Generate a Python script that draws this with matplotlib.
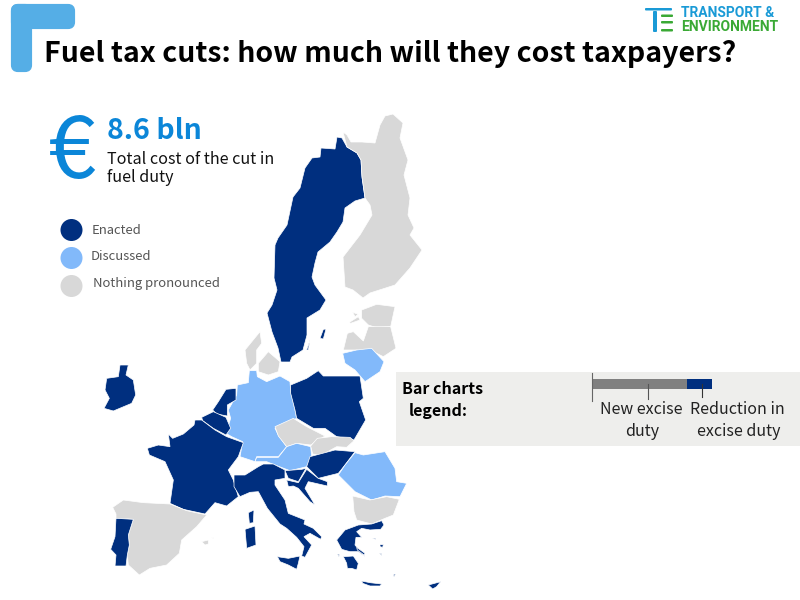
import matplotlib
matplotlib.use("Agg")
import matplotlib.pyplot as plt
from matplotlib.patches import Polygon, Circle, FancyBboxPatch

NAVY = "#002f7f"
LIGHT = "#82b9fa"
GREY = "#d8d8d8"
BLUE = "#0b86d8"
FONT = "Noto Sans CJK SC"

title = "Fuel tax cuts: how much will they cost taxpayers?"
total_cost = "8.6 bln"
legend_labels = ["Enacted", "Discussed", "Nothing pronounced"]
new_excise = 95
excise_reduction = 25

# outlines, in pixels
sweden = [(337,137),(342,138),(347,147),(357,153),(361,160),(362,177),(365,198),(355,201),(345,208),(343,222),(337,232),(330,242),(318,252),(315,263),(312,277),(315,285),(326,300),(320,310),(307,318),(307,335),(303,350),(292,357),(290,362),(281,362),(278,348),(272,332),(267,313),(272,305),(277,290),(274,278),(275,245),(278,238),(287,225),(293,197),(300,188),(305,168),(312,158),(320,157),(321,148),(335,149)]
finland = [(343,132),(347,135),(351,142),(362,142),(375,143),(380,125),(385,116),(393,114),(403,123),(400,138),(408,160),(404,175),(410,198),(408,215),(414,228),(410,235),(422,250),(410,268),(395,285),(370,293),(363,298),(353,290),(345,287),(343,257),(360,235),(372,215),(370,205),(365,198),(362,177),(361,160),(357,153),(347,147)]

# crop at (260,235), 3x
estonia = [(305,225),(350,208),(405,215),(392,275),(350,278),(325,270),(305,250)]
latvia = [(250,345),(262,295),(280,290),(310,318),(325,275),(392,275),(408,340),(370,365),(340,350),(290,345)]
saaremaa = [(268,262),(295,245),(300,255),(272,265)]
hiiumaa = [(278,232),(295,238),(285,245)]
gotland = [(180,310),(190,283),(198,282),(190,312)]
oland = [(140,345),(150,315),(145,345)]

# crop at (200,330), 3x
jutland = [(135,60),(180,5),(185,40),(170,60),(170,100),(150,120),(140,100)]
zealand = [(175,100),(205,65),(240,95),(235,125),(205,135),(175,125)]
germany = [(148,122),(170,122),(172,140),(200,155),(240,138),(270,155),(272,185),(285,240),(290,265),(225,295),(235,315),(260,350),(235,380),(170,380),(165,395),(120,380),(128,335),(95,320),(78,310),(92,265),(85,240),(110,195),(112,165),(145,158)]
poland = [(272,165),(320,145),(355,122),(370,138),(480,138),(490,205),(478,215),(497,270),(462,330),(410,320),(375,295),(340,295),(290,265),(285,240),(272,190)]
netherlands = [(78,178),(108,175),(108,210),(82,225),(82,258),(50,252),(38,240),(55,215)]
belgium = [(5,262),(40,245),(78,262),(92,295),(78,315),(40,295),(8,272)]
czechia = [(225,290),(280,265),(320,290),(375,318),(332,345),(290,340),(260,350),(235,318)]
slovakia = [(332,348),(352,325),(395,320),(450,322),(462,332),(440,352),(410,350),(365,375),(338,372)]
austria = [(165,395),(170,382),(235,382),(260,350),(290,340),(332,350),(335,380),(320,410),(270,422),(225,405),(200,395)]
lithuania = [(428,70),(470,60),(515,55),(552,95),(540,125),(495,155),(465,120),(435,100)]

# crop at (230,450), 3x
italy = [(12,75),(45,75),(85,50),(100,42),(130,42),(165,60),(165,85),(135,90),(135,105),(165,150),(175,190),(225,210),(222,222),(250,235),(275,260),(272,268),(240,250),(222,260),(245,285),(225,322),(215,318),(222,290),(200,262),(170,235),(150,222),(112,175),(85,125),(60,127),(30,140),(12,110)]
sicily = [(142,320),(175,325),(210,318),(205,340),(200,358),(175,345),(150,335)]
sardinia = [(45,238),(75,228),(78,285),(50,295)]
corsica = [(55,188),(72,180),(70,218),(58,220)]
slovenia = [(165,62),(215,58),(228,55),(205,95),(175,85)]
croatia = [(170,90),(205,98),(230,58),(265,85),(292,95),(292,108),(235,95),(225,115),(255,165),(240,155),(205,115),(190,108),(175,110)]
hungary = [(230,50),(240,20),(315,0),(375,5),(345,45),(325,70),(265,85)]
romania = [(345,45),(375,8),(400,15),(465,5),(495,55),(500,95),(530,100),(510,140),(465,138),(425,150),(375,125),(325,75)]
bulgaria = [(368,138),(420,150),(470,140),(508,148),(490,195),(465,205),(425,222),(380,210),(372,185)]
greece = [(320,270),(345,240),(385,225),(425,222),(455,212),(462,225),(452,238),(420,240),(395,235),(380,245),(395,262),(378,262),(375,285),(405,320),(385,305),(360,305),(335,298)]
peloponnese = [(340,320),(370,318),(385,340),(380,360),(365,355),(352,355),(350,340)]
crete = [(395,393),(420,398),(455,402),(450,408),(420,408),(398,400)]
cyprus = [(595,405),(632,395),(620,410),(608,417)]
euboea = [(380,292),(405,310),(402,315),(382,300)]
lesbos = [(450,284),(460,284),(458,292),(450,290)]
chios = [(447,308),(452,308),(452,316)]
rhodes = [(490,373),(497,372),(492,380)]
samothrace = [(428,264),(438,264),(436,268)]
zakynthos = [(322,312),(328,313),(327,320)]

# crop at (100,420), 3x
france = [(282,15),(285,0),(305,0),(345,30),(380,50),(430,68),(415,110),(385,150),(400,180),(415,230),(380,258),(345,248),(315,282),(250,268),(210,250),(220,180),(195,125),(148,105),(142,85),(175,75),(210,80),(205,42),(218,55),(250,42)]
spain = [(38,262),(70,240),(130,248),(210,252),(260,272),(320,285),(290,320),(245,360),(238,400),(200,435),(150,445),(118,465),(85,435),(82,405),(88,375),(85,345),(100,298),(48,295),(48,282)]
portugal = [(48,295),(100,298),(85,345),(88,375),(82,405),(78,438),(45,438),(48,405),(32,388),(45,350)]
mallorca = [(305,365),(325,360),(325,372),(315,375)]
menorca = [(335,352),(342,352),(340,356)]

# crop at (90,340), 3x
ireland = [(50,115),(85,110),(90,75),(115,75),(108,105),(130,120),(137,165),(125,190),(70,213),(42,205),(58,175),(45,150)]

full = [(sweden, NAVY), (finland, GREY)]
crops = [
    ((260, 235), [(estonia, GREY), (latvia, GREY), (saaremaa, GREY), (hiiumaa, GREY), (gotland, NAVY), (oland, NAVY)]),
    ((200, 330), [(jutland, GREY), (zealand, GREY), (germany, LIGHT), (poland, NAVY), (netherlands, NAVY),
                  (belgium, NAVY), (czechia, GREY), (slovakia, GREY), (austria, LIGHT), (lithuania, LIGHT)]),
    ((100, 420), [(france, NAVY), (spain, GREY), (portugal, NAVY), (mallorca, GREY), (menorca, GREY)]),
    ((230, 450), [(italy, NAVY), (sicily, NAVY), (sardinia, NAVY), (corsica, NAVY), (slovenia, NAVY), (croatia, NAVY),
                  (hungary, NAVY), (romania, LIGHT), (bulgaria, GREY), (greece, NAVY), (peloponnese, NAVY), (crete, NAVY),
                  (cyprus, NAVY), (euboea, NAVY), (lesbos, NAVY), (chios, NAVY), (rhodes, NAVY), (samothrace, NAVY),
                  (zakynthos, NAVY)]),
    ((90, 340), [(ireland, NAVY)]),
]

fig = plt.figure(figsize=(8, 6), dpi=100)
ax = fig.add_axes([0, 0, 1, 1])

# corner mark
for x, y, w, h in [(13, 6, 60, 21), (13, 6, 17, 64)]:
    ax.add_patch(FancyBboxPatch((x, y), w, h, boxstyle="round,pad=0,rounding_size=5",
                                fc="#55aee6", ec="#55aee6", lw=3))
ax.text(44, 54, title, fontsize=20.5, fontweight="bold", family=FONT, va="center", color="black")

# logo
ax.add_patch(FancyBboxPatch((645, 8), 27, 2.5, boxstyle="round,pad=0,rounding_size=1", fc="#1a9ad6", ec="none"))
ax.add_patch(FancyBboxPatch((653, 11), 4, 21, boxstyle="round,pad=0,rounding_size=1", fc="#1a9ad6", ec="none"))
for y in [14.5, 21, 29]:
    ax.add_patch(FancyBboxPatch((661, y), 12, 2.5, boxstyle="round,pad=0,rounding_size=1", fc="#3aa935", ec="none"))
ax.text(681, 13, "TRANSPORT &", fontsize=10, fontweight="bold", family="Roboto", color="#1a9ad6", va="center")
ax.text(681, 27, "ENVIRONMENT", fontsize=10, fontweight="bold", family="Roboto", color="#3aa935", va="center")

# headline number
ax.text(72, 178, "€", fontsize=62, fontweight="medium", family=FONT, color=BLUE, ha="center", va="baseline")
ax.text(107, 131, total_cost, fontsize=20.5, fontweight="bold", family=FONT, color=BLUE, va="center")
ax.text(107, 160, "Total cost of the cut in", fontsize=11.6, family=FONT, va="center", color="#111111")
ax.text(107, 177, "fuel duty", fontsize=11.6, family=FONT, va="center", color="#111111")

# map legend
for label, col, yc, xt, yt in zip(legend_labels, [NAVY, LIGHT, GREY], [230, 258, 286], [92, 91, 93], [230, 257, 284]):
    ax.add_patch(Circle((71.5, yc), 11, fc=col, ec="none"))
    ax.text(xt, yt, label, fontsize=9.4, family=FONT, color="#555555", va="center")

# map
for pts, col in full:
    ax.add_patch(Polygon(pts, closed=True, fc=col, ec="white", lw=0.5, zorder=2))
for (x0, y0), shapes in crops:
    for pts, col in shapes:
        xy = [(x0 + px / 3, y0 + py / 3) for px, py in pts]
        ax.add_patch(Polygon(xy, closed=True, fc=col, ec="white", lw=0.5, zorder=2))

# bar chart legend panel
ax.add_patch(plt.Rectangle((396, 372), 404, 74, fc="#eeeeec", ec="none", zorder=3))
ax.barh(384, new_excise, left=592, height=10, color="#808080", zorder=4)
ax.barh(384, excise_reduction, left=592 + new_excise, height=10, color=NAVY, zorder=4)
ax.plot([592, 592], [373, 401], color="#666666", lw=0.8, zorder=5)
ax.plot([648, 648], [384, 399], color="#555555", lw=0.8, zorder=5)
ax.plot([702, 702], [384, 397], color="#333333", lw=0.8, zorder=5)
ax.text(442, 389, "Bar charts", fontsize=11.5, fontweight="bold", family=FONT, ha="center", va="center", zorder=6)
ax.text(438, 411, "legend:", fontsize=11.5, fontweight="bold", family=FONT, ha="center", va="center", zorder=6)
for txt, x, y in [("New excise", 641, 410), ("duty", 642, 431), ("Reduction in", 737, 410), ("excise duty", 739, 431)]:
    ax.text(x, y, txt, fontsize=11.5, family=FONT, color="#222222", ha="center", va="center", zorder=6)

ax.set_xlim(0, 800)
ax.set_ylim(600, 0)
ax.axis("off")
fig.savefig("out.png", dpi=100)
